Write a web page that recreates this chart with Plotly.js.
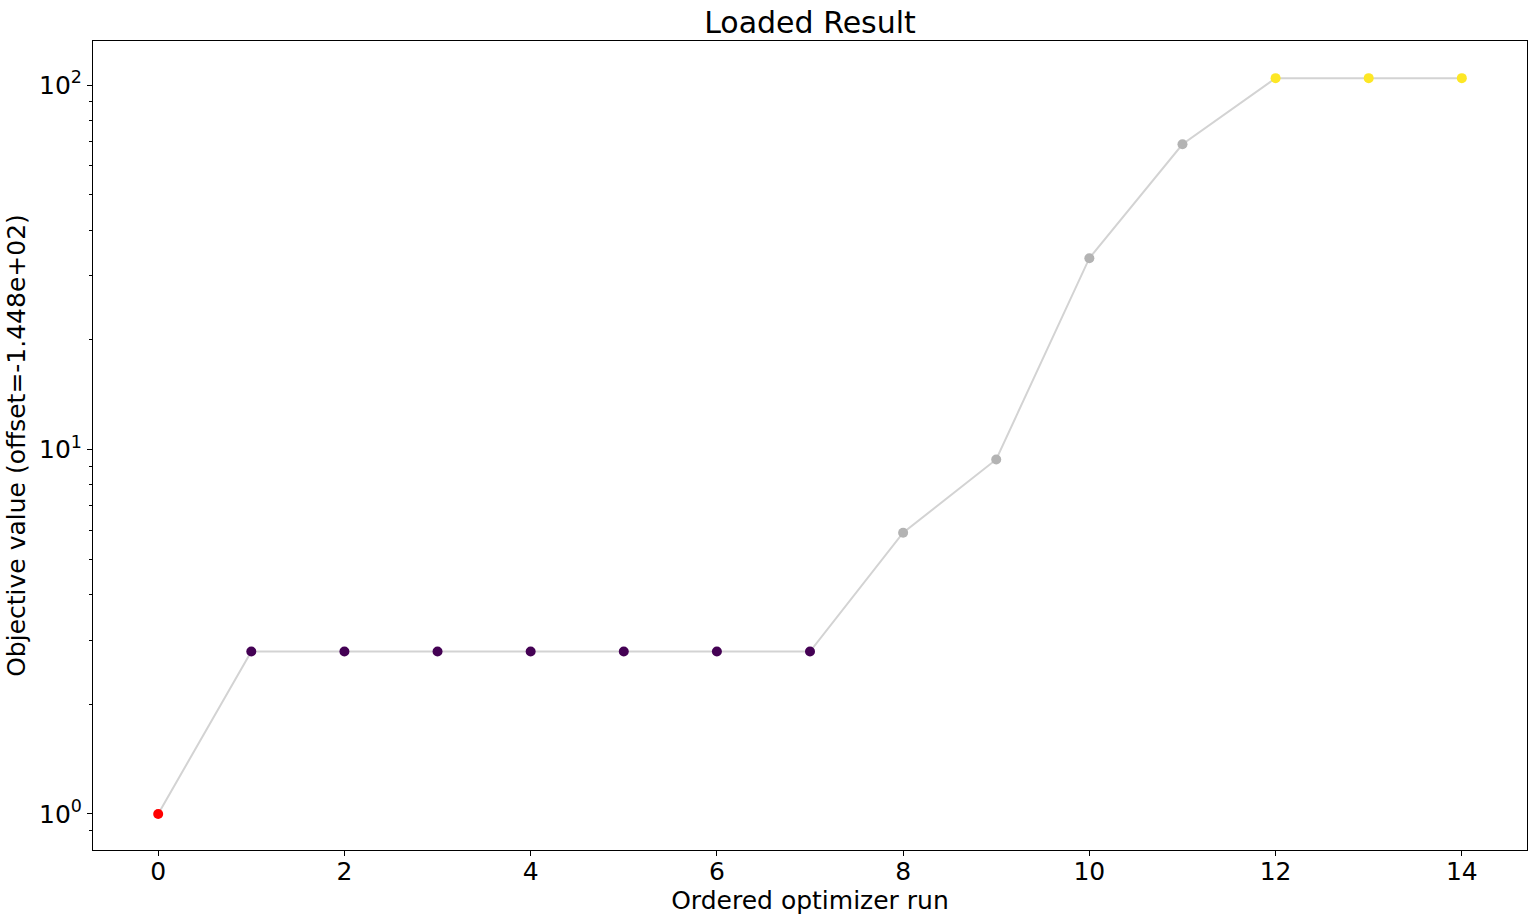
<!DOCTYPE html>
<html>
<head>
<meta charset="utf-8">
<script src="https://cdn.plot.ly/plotly-3.0.1.min.js"></script>
<style>html,body{margin:0;padding:0;background:#fff;} #chart{width:1536px;height:923px;}</style>
</head>
<body>
<div id="chart"></div>
<script>
const runs = [0,1,2,3,4,5,6,7,8,9,10,11,12,13,14];
const values = [1.0,2.79,2.79,2.79,2.79,2.79,2.79,2.79,5.91,9.39,33.5,68.8,104.5,104.5,104.5];
const pointColors = ['#ff0000','#440154','#440154','#440154','#440154','#440154','#440154','#440154',
  '#b3b3b3','#b3b3b3','#b3b3b3','#b3b3b3','#fde725','#fde725','#fde725'];
const xTickVals = [0,2,4,6,8,10,12,14];
const yTickVals = [1,10,100];
const yTickText = ['10<sup>0</sup>','10<sup>1</sup>','10<sup>2</sup>'];
const yMinorVals = [0.9,2,3,4,5,6,7,8,9,20,30,40,50,60,70,80,90];

const font = "DejaVu Sans";
const traces = [
  {x: runs, y: values, mode: 'lines', line: {color: '#d3d3d3', width: 2}, hoverinfo: 'skip', showlegend: false},
  {x: runs, y: values, mode: 'markers', marker: {color: pointColors, size: 10}, showlegend: false}
];
const layout = {
  width: 1536, height: 923,
  margin: {l: 93, r: 9, t: 41, b: 73},
  paper_bgcolor: '#fff', plot_bgcolor: '#fff',
  font: {family: font, color: '#000', size: 25},
  title: {text: 'Loaded Result', font: {size: 30, family: font, color: '#000'}, x: 0.5, xanchor: 'center', xref: 'paper', y: 0.976, yanchor: 'middle'},
  xaxis: {
    range: [-0.7, 14.7], tickvals: xTickVals,
    showgrid: false, zeroline: false, showline: true, linecolor: '#000', linewidth: 1, mirror: true,
    ticks: 'outside', ticklen: 5, tickcolor: '#000', tickfont: {size: 25, family: font, color: '#000'},
    ticklabelstandoff: -6,
    title: {text: 'Ordered optimizer run', font: {size: 25, family: font, color: '#000'}, standoff: 0}
  },
  yaxis: {
    type: 'log', range: [-0.099, 2.121],
    tickvals: yTickVals, ticktext: yTickText,
    showgrid: false, zeroline: false, showline: true, linecolor: '#000', linewidth: 1, mirror: true,
    ticks: 'outside', ticklen: 5, tickcolor: '#000', tickfont: {size: 25, family: font, color: '#000'},
    minor: {tickvals: yMinorVals, ticks: 'outside', ticklen: 3, tickcolor: '#000', showgrid: false},
    title: {text: 'Objective value (offset=-1.448e+02)', font: {size: 25, family: font, color: '#000'}, standoff: 6}
  }
};
Plotly.newPlot('chart', traces, layout, {displayModeBar: false, staticPlot: true});
</script>
</body>
</html>
